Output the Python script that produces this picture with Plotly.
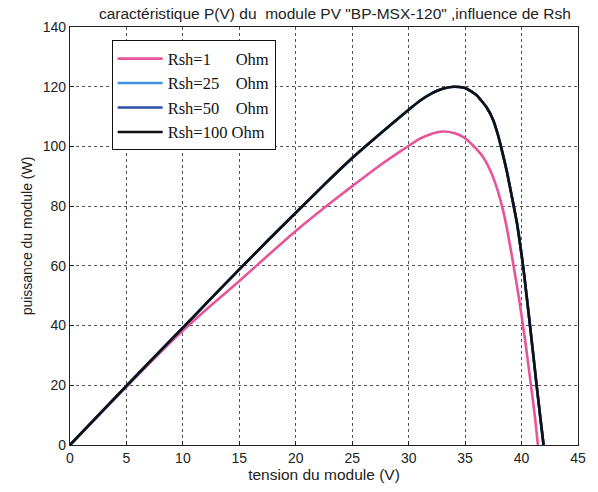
import plotly.graph_objects as go

# Tension (V) and puissance (W)
v_100 = [0, 2.5, 5, 7.5, 10, 12.5, 15, 17.5, 20, 22.5, 25, 27.5, 30, 31, 32, 33, 34, 35, 36,
         36.9, 37.5, 37.9, 38.2, 38.7, 39.1, 39.6, 39.9, 40.2, 40.75, 41.35, 41.7, 41.95]
p_100 = [0, 9.9, 19.8, 29.6, 39.3, 49.1, 58.8, 68.4, 77.8, 87.1, 96.1, 104.3, 112.3, 115.3, 117.7,
         119.3, 120.0, 119.6, 117.2, 113.1, 108.7, 104.0, 99.6, 91.6, 84.0, 74.2, 66.5, 58.0, 40.0,
         19.5, 8.0, 0]

v_50 = v_100
p_50 = p_100
v_25 = v_100
p_25 = p_100

v_1 = [0, 2.5, 5, 7.5, 10, 12.5, 15, 17.5, 20, 22.5, 25, 27.5, 30, 31, 32, 33, 34, 34.85, 35.7,
       36.6, 37.35, 37.9, 38.4, 38.8, 39.3, 39.8, 40.3, 40.8, 41.2, 41.45]
p_1 = [0, 9.8, 19.5, 29.1, 38.3, 46.8, 54.9, 63.4, 71.7, 79.4, 86.7, 93.8, 100.2, 102.6, 104.2,
       105.0, 104.5, 103.1, 100.3, 96.4, 90.9, 85.0, 78.0, 70.6, 59.9, 48.5, 35.5, 21.0, 9.0, 0]

names = ["Rsh=1\u00a0\u00a0\u00a0\u00a0\u00a0\u00a0Ohm",
         "Rsh=25\u00a0\u00a0\u00a0\u00a0Ohm",
         "Rsh=50\u00a0\u00a0\u00a0\u00a0Ohm",
         "Rsh=100\u00a0Ohm"]
colors = ["#e6559a", "#3d93dc", "#2b50a8", "#111111"]

fig = go.Figure()
for x, y, n, c in [(v_1, p_1, names[0], colors[0]), (v_25, p_25, names[1], colors[1]),
                   (v_50, p_50, names[2], colors[2]), (v_100, p_100, names[3], colors[3])]:
    fig.add_trace(go.Scatter(x=x, y=y, mode="lines", name=n,
                             line=dict(color=c, width=2.6, shape="spline", smoothing=0.5)))

axis_common = dict(showgrid=True, gridcolor="#555555", griddash="dot", gridwidth=1,
                   showline=True, linecolor="#222222", linewidth=1.2, mirror=True,
                   ticks="inside", ticklen=4, tickcolor="#222222", zeroline=False,
                   tickfont=dict(family="Liberation Sans, Arial", size=14, color="#222222"))

fig.update_xaxes(range=[0, 45], tickvals=list(range(0, 46, 5)),
                 title=dict(text="tension du module (V)", standoff=3,
                            font=dict(family="Liberation Sans, Arial", size=15.5, color="#222222")),
                 **axis_common)
fig.update_yaxes(range=[0, 140], tickvals=list(range(0, 141, 20)),
                 title=dict(text="puissance du module (W)", standoff=6,
                            font=dict(family="Liberation Sans, Arial", size=14, color="#222222")),
                 **axis_common)

fig.update_layout(
    width=598, height=492,
    margin=dict(l=70, r=15, t=27, b=41),
    paper_bgcolor="white", plot_bgcolor="white",
    title=dict(text='caractéristique P(V) du  module PV "BP-MSX-120" ,influence de Rsh',
               x=0.56, xanchor="center", y=0.973, yanchor="middle",
               font=dict(family="Liberation Sans, Arial", size=15.5, color="#222222")),
    legend=dict(x=0.082, y=0.968, xanchor="left", yanchor="top",
                bgcolor="white", bordercolor="#111111", borderwidth=1,
                font=dict(family="Liberation Serif, Times New Roman", size=16.5, color="#111111"),
                itemwidth=45, tracegroupgap=0),
    showlegend=True,
)

fig.write_html("out.html")
